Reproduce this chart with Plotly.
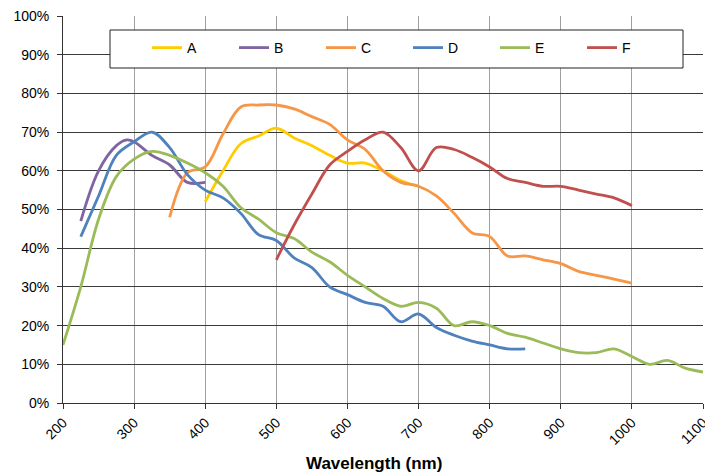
import plotly.graph_objects as go

# ---- data ----
wl_A = [400, 425, 450, 475, 500, 525, 550, 575, 600, 625, 650, 675, 700]
qe_A = [52, 60, 67, 69, 71, 68.5, 66.5, 64, 62, 62, 60, 57.5, 56]

wl_B = [225, 250, 275, 290, 300, 325, 350, 375, 400]
qe_B = [47, 60, 66.5, 68, 67.5, 64, 61.5, 57, 57]

wl_C = [350, 375, 400, 425, 450, 475, 500, 525, 550, 575, 600, 625, 650, 675, 700,
        725, 750, 775, 800, 825, 850, 875, 900, 925, 950, 975, 1000]
qe_C = [48, 59.5, 61, 69.5, 76.5, 77, 77, 76, 74, 72, 68, 65.5, 60, 57, 56,
        53.5, 49, 44, 43, 38, 38, 37, 36, 34, 33, 32, 31]

wl_D = [225, 250, 275, 300, 325, 350, 375, 400, 425, 450, 475, 500, 525, 550, 575,
        600, 625, 650, 675, 700, 725, 750, 775, 800, 825, 850]
qe_D = [43, 53.5, 64, 67.5, 70, 66, 59, 55, 53, 49, 43.5, 42, 37.5, 35, 30,
        28, 26, 25, 21, 23, 19.5, 17.5, 16, 15, 14, 14]

wl_E = [200, 225, 250, 275, 300, 325, 350, 375, 400, 425, 450, 475, 500, 525, 550,
        575, 600, 625, 650, 675, 700, 725, 750, 775, 800, 825, 850, 875, 900, 925,
        950, 975, 1000, 1025, 1050, 1075, 1100]
qe_E = [15, 30, 47.5, 58.5, 63, 65, 64, 62, 59.5, 56, 50.5, 47.5, 44, 42.5, 39,
        36.5, 33, 30, 27, 25, 26, 24.5, 20, 21, 20, 18, 17, 15.5, 14, 13,
        13, 14, 12, 10, 11, 9, 8]

wl_F = [500, 525, 550, 575, 600, 625, 650, 675, 700, 725, 750, 775, 800, 825, 850,
        875, 900, 925, 950, 975, 1000]
qe_F = [37, 46, 54, 61.5, 65, 68, 70, 66, 60, 66, 65.5, 63.5, 61, 58, 57,
        56, 56, 55, 54, 53, 51]

series = [
    ("A", wl_A, qe_A, "#FFCC00"),
    ("B", wl_B, qe_B, "#8064A2"),
    ("C", wl_C, qe_C, "#F79646"),
    ("D", wl_D, qe_D, "#4F81BD"),
    ("E", wl_E, qe_E, "#9BBB59"),
    ("F", wl_F, qe_F, "#C0504D"),
]

x_ticks = list(range(200, 1101, 100))

FONT = "Liberation Sans, Arial, sans-serif"

fig = go.Figure()
for name, xs, ys, col in series:
    fig.add_trace(go.Scatter(
        x=xs, y=[v / 100 for v in ys], name=name, mode="lines",
        line=dict(color=col, width=2.8, shape="spline", smoothing=1.0),
    ))

W, H = 705, 472
L, R, T, B = 63, 2, 16, 69
pw, ph = W - L - R, H - T - B

def px_x(p):
    return (p - L) / pw

def px_y(p):
    return (H - B - p) / ph

fig.update_layout(
    width=W, height=H,
    margin=dict(l=L, r=R, t=T, b=B, pad=0, autoexpand=False),
    paper_bgcolor="white", plot_bgcolor="white",
    font=dict(family=FONT, size=14, color="#000000"),
    showlegend=True,
    legend=dict(
        orientation="h", x=px_x(147), xanchor="left", y=px_y(48), yanchor="middle",
        bgcolor="rgba(0,0,0,0)", borderwidth=0,
        entrywidth=42, entrywidthmode="pixels",
        font=dict(family=FONT, size=14, color="#000000"),
        tracegroupgap=0,
    ),
    xaxis=dict(
        range=[200, 1100], tickvals=x_ticks, ticktext=[str(v) for v in x_ticks],
        tickangle=-45, showgrid=True, gridcolor="#a0a0a0", gridwidth=1,
        showline=True, linecolor="#333333", linewidth=1,
        ticks="outside", ticklen=5, tickcolor="#333333",
        tickfont=dict(family=FONT, size=14, color="#000000"),
        ticklabeloverflow="allow",
        zeroline=False, fixedrange=True, automargin=False,
    ),
    yaxis=dict(
        range=[0, 1], dtick=0.1, tickformat=".0%",
        showgrid=True, gridcolor="#3a3a3a", gridwidth=1,
        showline=True, linecolor="#333333", linewidth=1,
        ticks="outside", ticklen=5, tickcolor="#333333",
        tickfont=dict(family=FONT, size=14, color="#000000"),
        ticklabelstandoff=5, ticklabeloverflow="allow",
        zeroline=False, fixedrange=True, automargin=False,
    ),
    shapes=[dict(
        type="rect", xref="paper", yref="paper",
        x0=px_x(110), x1=px_x(683), y0=px_y(68), y1=px_y(30),
        fillcolor="white", line=dict(color="#222222", width=1), layer="above",
    )],
    annotations=[dict(
        text="<b>Wavelength (nm)</b>", xref="paper", yref="paper",
        x=px_x(374), y=px_y(463), xanchor="center", yanchor="middle",
        showarrow=False, font=dict(family=FONT, size=17, color="#000000"),
    )],
)

fig.write_html(
    "out.html",
    config={"displayModeBar": False},
    post_script="document.body.style.margin='0';document.body.style.overflow='hidden';",
)
